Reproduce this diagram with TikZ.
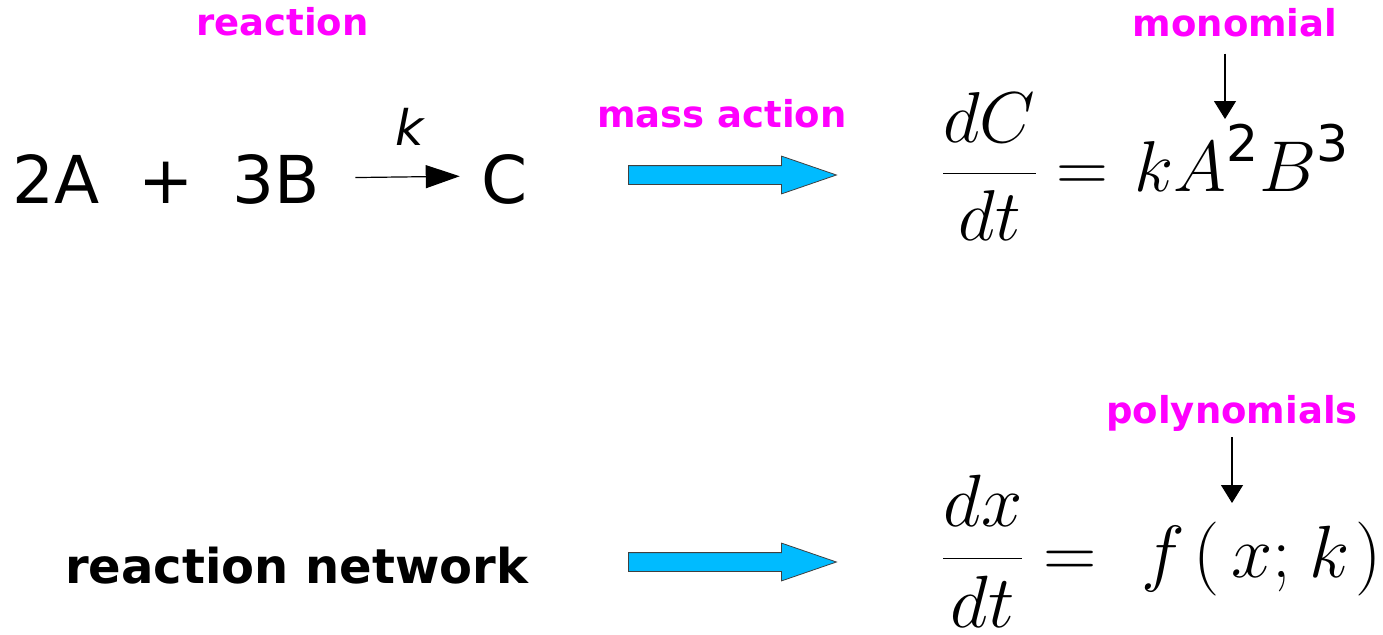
\documentclass[tikz,border=0pt]{standalone}
\usepackage{fix-cm}
\usepackage{amsmath}
\usepackage[no-math]{fontspec}
\setmainfont{DejaVu Sans}
\setsansfont{DejaVu Sans}
\usepackage{xcolor}
\usepackage{tikz}
\usetikzlibrary{shapes,arrows,arrows.meta,positioning}

\definecolor{tagmagenta}{RGB}{255,0,255}
\definecolor{flowblue}{RGB}{0,187,255}

\begin{document}
\begin{tikzpicture}[
    x=1pt, y=-1pt,
    tagtext/.style={font=\fontsize{37}{40}\selectfont\bfseries, text=tagmagenta, inner sep=0pt},
    species/.style={font=\fontsize{66}{70}\selectfont, inner sep=0pt},
    ratek/.style={font=\fontsize{49}{52}\selectfont\itshape, inner sep=0pt},
    netlabel/.style={font=\fontsize{48}{52}\selectfont\bfseries, inner sep=0pt},
    eqtop/.style={font=\fontsize{72}{76}\selectfont, inner sep=0pt},
    eqbot/.style={font=\fontsize{74}{78}\selectfont, inner sep=0pt},
    flow/.style={single arrow, draw=black!75, line width=0.8pt, fill=flowblue, inner xsep=0pt, inner ysep=9pt, minimum height=208pt, single arrow head extend=9.5pt, single arrow tip angle=38, anchor=tail},
    rxn/.style={-{Triangle[length=34pt, width=23pt]}, line width=1.2pt},
    pointer/.style={-{Triangle[length=18pt, width=22pt]}, line width=1.2pt}
]
    \useasboundingbox (0,0) rectangle (1383,634);

    % Reaction (top row)
    \node[tagtext, anchor=base] (reaction) at (282.5,36) {reaction};
    \node[species, anchor=base] (twoA) at (56,203) {2A};
    \node[species, anchor=base] (plus) at (166,203) {+};
    \node[species, anchor=base] (threeB) at (276.5,203) {3B};
    \node[species, anchor=base] (prodC) at (505,203) {C};
    \node[ratek, anchor=base] (rate) at (410,145) {k};

    % Mass action
    \node[tagtext, anchor=base] (massaction) at (722,127) {mass action};
    \node[flow] (flowtop) at (628,175) {};

    % Rate equation
    \node[eqtop, anchor=base west] (rateeq) at (942,191) {$\displaystyle \frac{dC}{dt}=\hspace{6pt}kA^{\text{\sffamily 2}}B^{\text{\sffamily 3}}$};
    \node[tagtext, anchor=base] (monomial) at (1235,37) {monomial};
    \coordinate (monotip) at (1225,119);

    % Network (bottom row)
    \node[netlabel, anchor=base] (network) at (296.5,583) {reaction network};
    \node[flow] (flowbot) at (628,562) {};
    \node[eqbot, anchor=base west] (odesys) at (942,577) {$\displaystyle \frac{dx}{dt}=\hspace{24pt}f\hspace{8pt}(\hspace{12pt}x;\hspace{6pt}k\hspace{6pt})$};
    \node[tagtext, anchor=base] (polys) at (1232,423) {polynomials};
    \coordinate (polytip) at (1232,503);

    % Arrows
    \draw[rxn, shorten <=35pt, shorten >=22pt] ([yshift=1pt]threeB.east) -- ([yshift=3pt]prodC.west);
    \draw[pointer, shorten <=16pt] (monomial.south -| monotip) -- (monotip);
    \draw[pointer, shorten <=6pt] (polys.south) -- (polytip);

\end{tikzpicture}
\end{document}
